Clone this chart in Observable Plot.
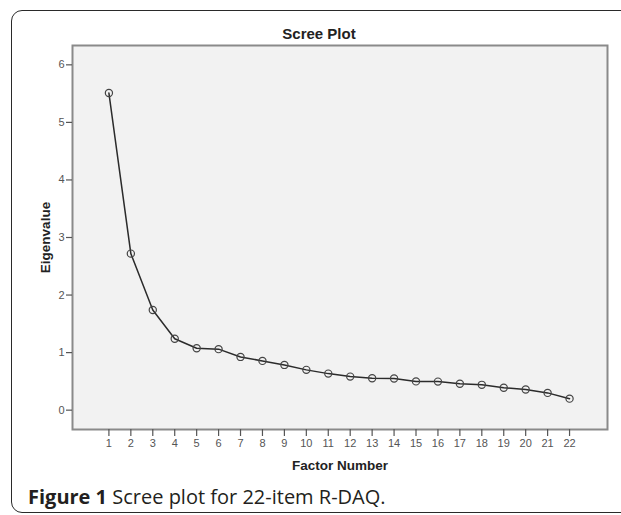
<!DOCTYPE html>
<html>
<head>
<meta charset="utf-8">
<script src="https://cdn.jsdelivr.net/npm/d3@7"></script>
<script src="https://cdn.jsdelivr.net/npm/@observablehq/plot@0.6"></script>
<style>
  html, body { margin: 0; padding: 0; background: #fff; }
  #wrap { position: relative; width: 621px; height: 515px; overflow: hidden; }
  #box { position: absolute; left: 11px; top: 10px; width: 640px; height: 503px;
         border: 1.5px solid #2a2a2a; border-radius: 11px; box-sizing: border-box; }
  #chart { position: absolute; left: 0; top: 0; }
  #caption { position: absolute; left: 28px; top: 487px; font-family: "Open Sans", sans-serif;
             font-size: 20px; line-height: 20px; color: #231f20; white-space: nowrap; }
  #caption b { font-weight: 700; }
</style>
</head>
<body>
<div id="wrap">
  <div id="box"></div>
  <div id="chart"></div>
  <div id="caption"><b>Figure 1</b> Scree plot for 22-item R-DAQ.</div>
</div>
<script>
const factors = [1,2,3,4,5,6,7,8,9,10,11,12,13,14,15,16,17,18,19,20,21,22];
const eigenvalues = [5.51,2.72,1.74,1.24,1.075,1.06,0.925,0.856,0.786,0.70,0.635,0.583,0.554,0.549,0.50,0.496,0.46,0.44,0.39,0.36,0.30,0.20];
const yTicks = [0,1,2,3,4,5,6];
const title = "Scree Plot";
const xLabel = "Factor Number";
const yLabel = "Eigenvalue";

const data = factors.map((f, i) => ({factor: f, value: eigenvalues[i]}));
const font = "Liberation Sans, Arial, sans-serif";

const chart = Plot.plot({
  width: 621,
  height: 480,
  marginTop: 45,
  marginLeft: 72,
  marginRight: 14,
  marginBottom: 51,
  style: {fontFamily: font, background: "transparent", overflow: "visible"},
  x: {domain: [-0.66, 23.73]},
  y: {domain: [-0.336, 6.336]},
  marks: [
    Plot.frame({fill: "#f2f2f2", stroke: "#8a8a8a", strokeWidth: 2}),
    Plot.axisX({ticks: factors, tickFormat: d => String(d), tickSize: 7, tickPadding: 3,
                stroke: "#555", fill: "#555", fontSize: 11, label: null, strokeWidth: 1.2}),
    Plot.axisY({ticks: yTicks, tickFormat: d => String(d), tickSize: 6, tickPadding: 2,
                stroke: "#555", fill: "#555", fontSize: 11, label: null, strokeWidth: 1.2}),
    Plot.line(data, {x: "factor", y: "value", stroke: "#2b2b2b", strokeWidth: 1.5}),
    Plot.dot(data, {x: "factor", y: "value", r: 3.6, stroke: "#444", strokeWidth: 1.2, fill: "none"}),
    Plot.text([title], {frameAnchor: "top", lineAnchor: "middle", textAnchor: "middle", dy: -11, dx: -21,
                        fontSize: 15, fontWeight: "bold", fill: "#222"}),
    Plot.text([xLabel], {frameAnchor: "bottom", lineAnchor: "middle", textAnchor: "middle", dy: 36,
                         fontSize: 13.5, fontWeight: "bold", fill: "#222"}),
    Plot.text([yLabel], {frameAnchor: "left", lineAnchor: "middle", textAnchor: "middle", dx: -27, rotate: -90,
                         fontSize: 13.5, fontWeight: "bold", fill: "#222"})
  ]
});
document.getElementById("chart").appendChild(chart);
</script>
</body>
</html>
